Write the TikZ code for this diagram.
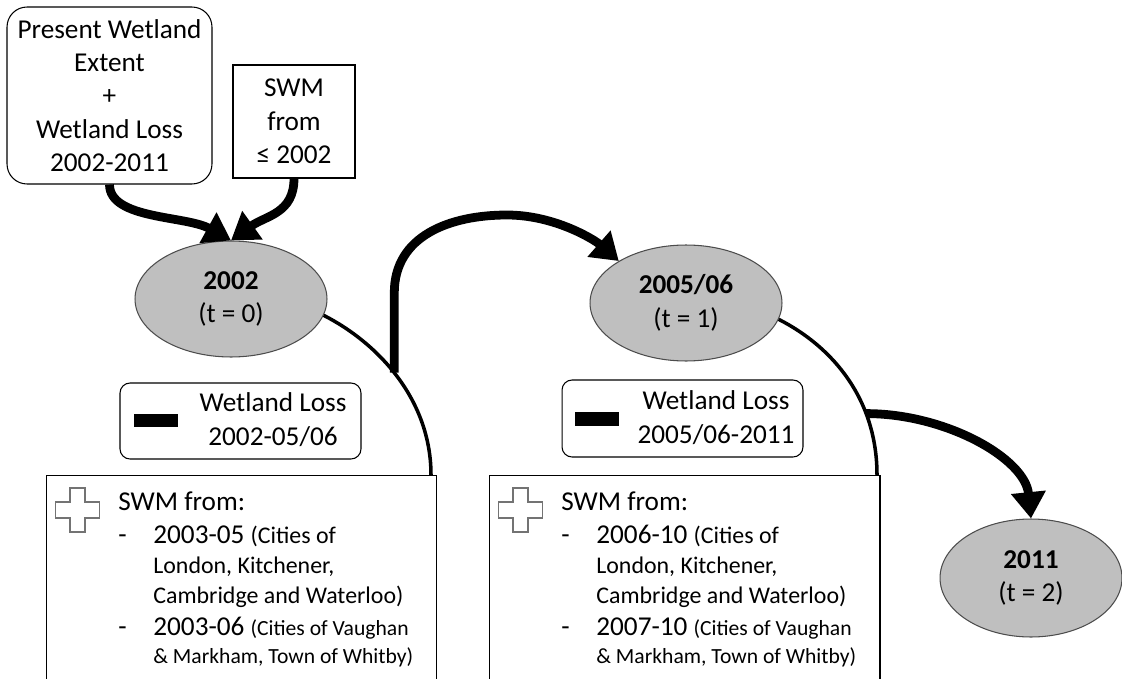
\documentclass[tikz,border=0pt]{standalone}
\usepackage{fontspec}
\setmainfont{Carlito}
\usetikzlibrary{shapes.geometric}
\usetikzlibrary{arrows.meta}
\newcommand{\bigtxt}{\fontsize{15.5}{19}\selectfont}
\newcommand{\midtxt}{\fontsize{13.6}{17}\selectfont}
\newcommand{\smalltxt}{\fontsize{12.3}{15}\selectfont}

\begin{document}
\begin{tikzpicture}[x=0.02cm, y=-0.02cm,
 year/.style={ellipse, draw=black!70, fill=black!25, line width=0.6pt, minimum width=3.84cm, minimum height=2.32cm, inner sep=0, align=center, font=\bigtxt},
 flow/.style={line width=5pt, -{Triangle[width=19pt,length=15pt]}},
 period/.style={line width=2pt},
 txt/.style={anchor=base west, inner sep=0}]
\useasboundingbox (0,0) rectangle (1122,679);
\clip (0,0) rectangle (1122,679);

\node[draw, rounded corners=0.4cm, line width=0.6pt, minimum width=4.1cm, minimum height=3.54cm, align=center, font=\bigtxt, inner sep=0] (present) at (109.5,95.5) {Present Wetland\\Extent\\+\\Wetland Loss\\2002-2011};
\node[draw, line width=0.6pt, minimum width=2.44cm, minimum height=2.26cm, align=center, font=\bigtxt, inner sep=0] (swm0) at (294,121.5) {SWM\\from\\≤ 2002};

\node[year] (y2002) at (231,299) {\textbf{2002}\\(t = 0)};
\node[year] (y2005) at (686,303) {\textbf{2005/06}\\(t = 1)};
\node[year, minimum width=3.64cm, minimum height=2.36cm] (y2011) at (1031,578) {\textbf{2011}\\(t = 2)};

\node[draw, rounded corners=0.2cm, line width=0.6pt, minimum width=4.82cm, minimum height=1.52cm, inner sep=0] (loss1) at (240.5,421) {};
\node[fill, minimum width=0.88cm, minimum height=0.26cm, inner sep=0] (bar1) at (156,420.5) {};
\node[align=center, font=\bigtxt, inner sep=0] (loss1txt) at (273,419.5) {Wetland Loss\\2002-05/06};
\node[draw, rounded corners=0.2cm, line width=0.6pt, minimum width=4.82cm, minimum height=1.54cm, inner sep=0] (loss2) at (682.5,418.5) {};
\node[fill, minimum width=0.88cm, minimum height=0.28cm, inner sep=0] (bar2) at (597,419) {};
\node[align=center, font=\bigtxt, inner sep=0] (loss2txt) at (716,417.5) {Wetland Loss\\2005/06-2011};

\coordinate (arcend1) at (431,475);
\coordinate (arcend2) at (877,475);
\coordinate (arctop) at (507,215);
\draw[period] (y2002.-10) .. controls +(55,28) and +(0,-75) .. (arcend1) coordinate[pos=0.47] (onarc1);
\draw[period] (y2005.-10) .. controls +(55,28) and +(0,-75) .. (arcend2) coordinate[pos=0.7] (onarc2);

\foreach \dx/\ya/\yb/\n in {0/2003-05/2003-06/1, 443/2006-10/2007-10/2} {
 \node[draw, fill=white, line width=0.6pt, minimum width=7.82cm, minimum height=4.9cm, inner sep=0] (swmlist\n) at (241.5+\dx,597.5) {};
 \draw[black!55, line width=0.8pt] (70+\dx,488) -- (85+\dx,488) -- (85+\dx,502) -- (99.5+\dx,502) -- (99.5+\dx,518) -- (85+\dx,518) -- (85+\dx,532) -- (70+\dx,532) -- (70+\dx,518) -- (55.5+\dx,518) -- (55.5+\dx,502) -- (70+\dx,502) -- cycle;
 \node[txt, font=\bigtxt] (head\n) at (118+\dx,510) {SWM from:};
 \node[txt, font=\bigtxt] (dasha\n) at (118+\dx,543) {-};
 \node[txt] (itema\n) at (153+\dx,543) {\bigtxt \ya{} \midtxt (Cities of};
 \node[txt, font=\midtxt] (itemb\n) at (153+\dx,573) {London, Kitchener,};
 \node[txt, font=\midtxt] (itemc\n) at (153+\dx,603) {Cambridge and Waterloo)};
 \node[txt, font=\bigtxt] (dashb\n) at (118+\dx,635) {-};
 \node[txt] (itemd\n) at (153+\dx,635) {\bigtxt \yb{} \smalltxt (Cities of Vaughan};
 \node[txt, font=\smalltxt] (iteme\n) at (153+\dx,663) {\& Markham, Town of Whitby)};
}

\draw[flow] (present.south) .. controls +(0,35) and +(-45,-25) .. (y2002.north);
\draw[flow] (swm0.south) .. controls +(0,35) and +(35,-25) .. (y2002.north);
\draw[flow] (onarc1) -- ++(0,-80) .. controls +(0,-57) and +(-57,0) .. (arctop) .. controls +(48,0) and +(-24,-21) .. (y2005.148);
\draw[flow] (onarc2) .. controls +(80,0) and +(-6,-60) .. (y2011.north);
\end{tikzpicture}
\end{document}
